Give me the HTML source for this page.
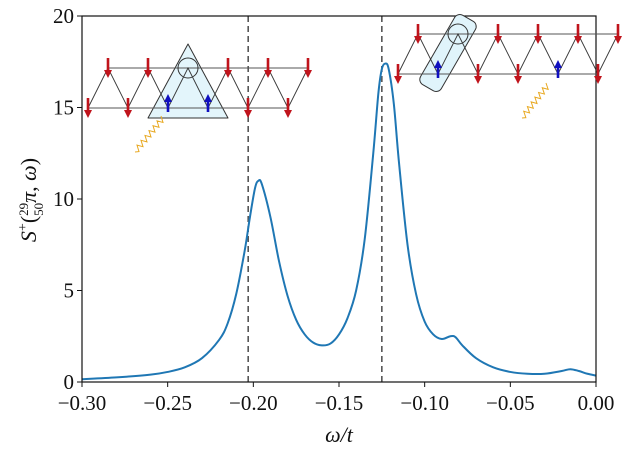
<!DOCTYPE html>
<html><head><meta charset="utf-8"><style>
body{margin:0;background:#fff}
svg text{font-family:"Liberation Serif",serif;fill:#111}
</style></head><body>
<svg width="623" height="456" viewBox="0 0 623 456" xmlns="http://www.w3.org/2000/svg">
<defs>
<marker id="ar" markerWidth="8" markerHeight="8" refX="2" refY="4" orient="auto" markerUnits="userSpaceOnUse"><path d="M0,0 L8,4 L0,8z" fill="#c0141c"/></marker>
<marker id="ab" markerWidth="8" markerHeight="8" refX="2" refY="4" orient="auto" markerUnits="userSpaceOnUse"><path d="M0,0 L8,4 L0,8z" fill="#1010c0"/></marker>
</defs>
<g id="axes"></g>
<g id="insets"></g>
<text x="339" y="442" font-size="22" text-anchor="middle" font-style="italic">ω/t</text>
<g transform="translate(36,200) rotate(-90)">
<text x="0" y="0" font-size="22" text-anchor="middle"><tspan font-style="italic">S</tspan><tspan dy="-9" font-size="14">+</tspan><tspan dy="9">(</tspan><tspan dy="-8" font-size="13">29</tspan><tspan dx="-13" dy="15" font-size="13">50</tspan><tspan dy="-7" font-style="italic">π</tspan>, <tspan font-style="italic">ω</tspan>)</text>
</g>
</svg>
<script>
const xs=[-0.30,-0.28,-0.26,-0.25,-0.24,-0.23,-0.22,-0.215,-0.21,-0.205,-0.202,-0.199,-0.197,-0.195,-0.19,-0.185,-0.18,-0.175,-0.17,-0.165,-0.16,-0.155,-0.15,-0.145,-0.14,-0.135,-0.13,-0.127,-0.125,-0.123,-0.121,-0.118,-0.115,-0.11,-0.105,-0.10,-0.095,-0.09,-0.085,-0.082,-0.078,-0.07,-0.06,-0.05,-0.04,-0.03,-0.02,-0.015,-0.01,-0.005,0];
const ys=[0.15,0.25,0.4,0.55,0.8,1.3,2.3,3.2,4.8,7.2,9.0,10.6,11.0,10.8,9.0,6.6,4.7,3.4,2.6,2.15,2.0,2.1,2.6,3.5,5.0,7.8,12.5,15.8,17.1,17.4,17.1,15.2,12.0,7.5,4.8,3.3,2.6,2.35,2.5,2.45,2.0,1.3,0.8,0.55,0.45,0.45,0.6,0.7,0.6,0.45,0.35];
const xTicks=[-0.30,-0.25,-0.20,-0.15,-0.10,-0.05,0.00];
const xTickLabels=["−0.30","−0.25","−0.20","−0.15","−0.10","−0.05","0.00"];
const yTicks=[0,5,10,15,20];
const dashedX=[-0.203,-0.125];
const L=82,R=596,T=16,B=382;
const sx=v=>L+(v+0.30)/0.30*(R-L);
const sy=v=>B-v/20*(B-T);
const NS="http://www.w3.org/2000/svg";
const g=document.getElementById('axes');
function mk(t,a,p){const e=document.createElementNS(NS,t);for(const k in a)e.setAttribute(k,a[k]);(p||g).appendChild(e);return e;}
dashedX.forEach(v=>{const e=mk('line',{x1:sx(v),x2:sx(v),y1:T,y2:B,stroke:'#555','stroke-width':1.6,'stroke-dasharray':'6,4'});

});
const P=xs.map((x,i)=>[sx(x),sy(ys[i])]);
let d='M'+P[0][0]+','+P[0][1];
for(let i=0;i<P.length-1;i++){const p0=P[Math.max(0,i-1)],p1=P[i],p2=P[i+1],p3=P[Math.min(P.length-1,i+2)];
 const c1=[p1[0]+(p2[0]-p0[0])/6,p1[1]+(p2[1]-p0[1])/6],c2=[p2[0]-(p3[0]-p1[0])/6,p2[1]-(p3[1]-p1[1])/6];
 d+=` C${c1[0].toFixed(2)},${c1[1].toFixed(2)} ${c2[0].toFixed(2)},${c2[1].toFixed(2)} ${p2[0].toFixed(2)},${p2[1].toFixed(2)}`;}
const pth=mk('path',{d:d,fill:'none',stroke:'#1f77b4','stroke-width':2,'stroke-linejoin':'round'});


const fr=mk('rect',{x:L,y:T,width:R-L,height:B-T,fill:'none',stroke:'#111','stroke-width':1.2});


xTicks.forEach((v,i)=>{mk('line',{x1:sx(v),x2:sx(v),y1:B,y2:B+5,stroke:'#111'});
const t=mk('text',{x:sx(v),y:B+28,'font-size':21,'text-anchor':'middle'});t.textContent=xTickLabels[i];

});
yTicks.forEach(v=>{mk('line',{x1:L-5,x2:L,y1:sy(v),y2:sy(v),stroke:'#111'});
const t=mk('text',{x:L-8,y:sy(v)+7,'font-size':21,'text-anchor':'end'});t.textContent=v;

});
const ig=document.getElementById('insets');
function lattice(bx,tx,by,ty,blue,circX,shape,wave){
 if(shape)mk(shape.t,shape.a,ig);
 mk('line',{x1:tx[0],x2:tx[tx.length-1],y1:ty,y2:ty,stroke:'#555','stroke-width':1},ig);
 mk('line',{x1:bx[0],x2:bx[bx.length-1],y1:by,y2:by,stroke:'#555','stroke-width':1},ig);
 let pts=[];for(let i=0;i<Math.max(bx.length,tx.length);i++){if(bx[i]!=null)pts.push(bx[i]+','+by);if(tx[i]!=null)pts.push(tx[i]+','+ty);}
 mk('polyline',{points:pts.join(' '),fill:'none',stroke:'#333','stroke-width':0.9},ig);
 mk('circle',{cx:circX,cy:ty,r:10,fill:'none',stroke:'#333','stroke-width':1},ig);
 bx.forEach((x,i)=>{if(blue.includes(i))mk('line',{x1:x,x2:x,y1:by+4,y2:by-8,stroke:'#1010c0','stroke-width':2.6,'marker-end':'url(#ab)'},ig);
  else mk('line',{x1:x,x2:x,y1:by-10,y2:by+4,stroke:'#c0141c','stroke-width':2.6,'marker-end':'url(#ar)'},ig);});
 tx.forEach(x=>{if(Math.abs(x-circX)<2)return;mk('line',{x1:x,x2:x,y1:ty-10,y2:ty+4,stroke:'#c0141c','stroke-width':2.6,'marker-end':'url(#ar)'},ig);});
 let wp='M'+wave[0]+','+wave[1];const n=14;for(let i=1;i<=n;i++){const f=i/n;const x=wave[0]+(wave[2]-wave[0])*f,y=wave[1]+(wave[3]-wave[1])*f;wp+=' L'+(x+(i%2?2:-2))+','+(y+(i%2?2:-2));}
 mk('path',{d:wp,fill:'none',stroke:'#e8a820','stroke-width':1},ig);
}
lattice([88,128,168,208,248,288],[108,148,188,228,268,308],108,68,[2,3],188,
 {t:'path',a:{d:'M188,44 L228,118 L148,118 Z',fill:'#e0f4fb','fill-opacity':0.9,stroke:'#333','stroke-width':1,'stroke-linejoin':'round'}},[135,152,163,118]);
lattice([398,438,478,518,558,598],[418,458,498,538,578,618],74,34,[1,4],458,
 {t:'rect',a:{x:-12,y:-40,width:24,height:80,rx:6,transform:'translate(448,53) rotate(30)',fill:'#e0f4fb',stroke:'#333','stroke-width':1}},[522,118,548,85]);
</script>
</body></html>
